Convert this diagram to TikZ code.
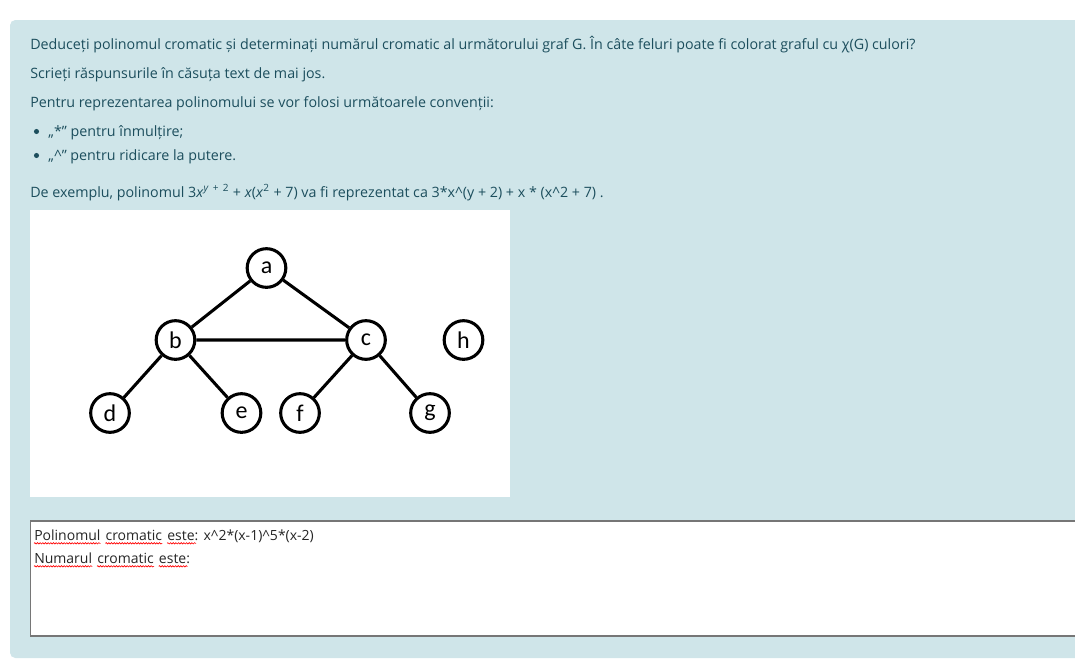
\documentclass[tikz,border=0pt]{standalone}
\usepackage{fontspec}
\setmainfont{Open Sans}
\newfontfamily\graphfont{Carlito}
\usetikzlibrary{positioning,decorations.pathmorphing}

\definecolor{panel}{HTML}{CFE5E9}
\definecolor{ink}{HTML}{1C4E5D}
\definecolor{boxline}{HTML}{767676}

\begin{document}
\begin{tikzpicture}
                    [x=0.75pt,y=-0.75pt,
                     line/.style={anchor=base west,inner sep=0pt,text=ink,font=\fontsize{10.7}{12}\selectfont},
                     word/.style={anchor=base west,inner sep=0pt,text=black!85,font=\fontsize{10.5}{12}\selectfont},
                     dot/.style={circle,fill=ink,inner sep=0pt,minimum size=3.8pt},
                     vertex/.style={circle,draw,line width=2.3pt,minimum size=29pt,inner sep=0pt,font=\graphfont\fontsize{18}{18}\selectfont},
                     edge/.style={line width=2.3pt},
                     typo/.style={red,line width=0.5pt,decorate,decoration={snake,amplitude=0.5pt,segment length=2pt}}]

                \useasboundingbox (0,0) rectangle (1075,665);

                % panel and the two white boxes
                \fill[panel,rounded corners=4pt] (10,20) rectangle (1090,658);
                \fill[white] (30,210) rectangle (510,497);
                \filldraw[fill=white,draw=boxline,line width=0.8pt] (1090,521) -- (30.5,521) -- (30.5,636) -- (1090,636);

                % question text
                \node[line] (q1) at (30,49) {Deduceți polinomul cromatic și determinați numărul cromatic al următorului graf G. În câte feluri poate fi colorat graful cu χ(G) culori?};
                \node[line] (q2) at (30,78) {Scrieți răspunsurile în căsuța text de mai jos.};
                \node[line] (q3) at (30,107) {Pentru reprezentarea polinomului se vor folosi următoarele convenții:};
                \node[dot] (b1) at (36.5,131.5) {};
                \node[line] (q4) at (48,136) {„*” pentru înmulțire;};
                \node[dot] (b2) at (36.5,155.5) {};
                \node[line] (q5) at (48,160) {„\textasciicircum” pentru ridicare la putere.};
                \node[line] (q6) at (30,197) {De exemplu, polinomul 3\textit{x}\textsuperscript{\textit{y} \,+\, 2} + \textit{x}(\textit{x}\textsuperscript{2} + 7) va fi reprezentat ca 3*x\textasciicircum(y + 2) + x * (x\textasciicircum2 + 7) .};

                % graph G
                \node[vertex] (a) at (266.5,268) {a};
                \node[vertex] (b) at (175.5,340) {b};
                \node[vertex] (c) at (366,340) {c};
                \node[vertex] (h) at (463.5,340) {h};
                \node[vertex] (d) at (110,413) {d};
                \node[vertex] (e) at (241.5,413) {e};
                \node[vertex] (f) at (300,413) {f};
                \node[vertex] (g) at (430,413) {g};

                \draw[edge] (a) -- (b) (a) -- (c) (b) -- (c);
                \draw[edge] (b) -- (d) (b) -- (e) (c) -- (f) (c) -- (g);

                % answer typed in the box
                \node[word] (p1) at (34,540) {Polinomul};
                \node[word,right=3.5pt of p1.base east,anchor=base west] (p2) {cromatic};
                \node[word,right=3.5pt of p2.base east,anchor=base west] (p3) {este:};
                \node[word,right=3.5pt of p3.base east,anchor=base west] (p4) {x\textasciicircum2*(x-1)\textasciicircum5*(x-2)};
                \node[word] (n1) at (34,563) {Numarul};
                \node[word,right=3.5pt of n1.base east,anchor=base west] (n2) {cromatic};
                \node[word,right=3.5pt of n2.base east,anchor=base west] (n3) {este:};

                \foreach \w in {p1,p2,n1,n2}
                    \draw[typo] ([yshift=-2.5pt]\w.base west) -- ([yshift=-2.5pt]\w.base east);
                \foreach \w in {p3,n3}
                    \draw[typo] ([yshift=-2.5pt]\w.base west) -- ([xshift=-2pt,yshift=-2.5pt]\w.base east);

\end{tikzpicture}
\end{document}
